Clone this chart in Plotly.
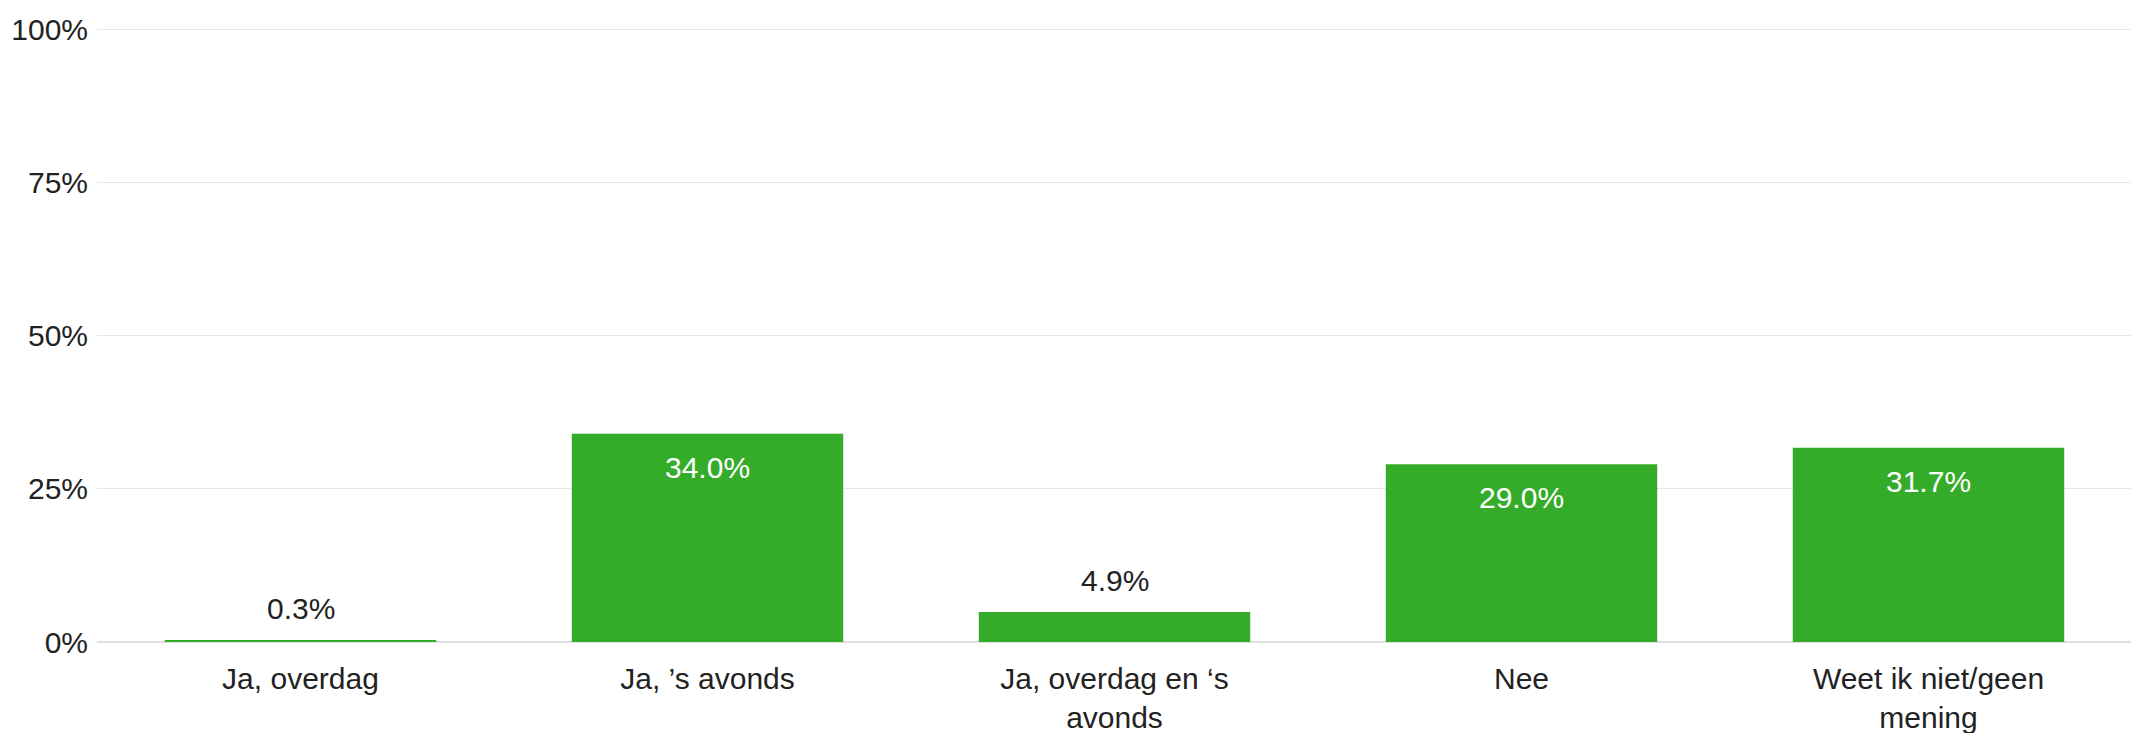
import plotly.graph_objects as go

# antwoordcategorieën en percentages
categories = ['Ja, overdag', 'Ja, ’s avonds', 'Ja, overdag en ‘s<br>avonds', 'Nee', 'Weet ik niet/geen<br>mening']
percentages = [0.3, 34.0, 4.9, 29.0, 31.7]
y_ticks = [0, 25, 50, 75, 100]
y_tick_labels = ['0%', '25%', '50%', '75%', '100%']

bar_color = '#34ac29'
font_family = 'Liberation Sans, Arial, sans-serif'
fs = 30

fig = go.Figure(go.Bar(
    x=categories,
    y=percentages,
    marker=dict(color=bar_color, line=dict(width=0)),
    hoverinfo='skip',
))

# labels: binnen de balk als ze passen, anders erboven
for cat, val in zip(categories, percentages):
    inside = val > 10
    fig.add_annotation(
        x=cat, y=val,
        text=f'{val:.1f}%',
        showarrow=False,
        yanchor='top' if inside else 'bottom',
        yshift=-15 if inside else 13,
        font=dict(size=fs, color='white' if inside else '#222222', family=font_family),
    )

# de pagina heeft 8px body-marge, daarom marges iets verschoven
fig.update_layout(
    width=2139, height=733,
    margin=dict(l=89, r=15, t=20, b=99, autoexpand=False),
    paper_bgcolor='white', plot_bgcolor='white',
    bargap=0.333,
    showlegend=False,
    font=dict(family=font_family, size=fs, color='#222222'),
    xaxis=dict(showgrid=False, showline=False, ticks='', ticklabelstandoff=16,
               automargin=False, tickfont=dict(size=fs, color='#222222')),
    yaxis=dict(range=[0, 100.2], tickvals=y_ticks, ticktext=y_tick_labels,
               showgrid=True, gridcolor='#e8e8e8', gridwidth=1,
               zeroline=True, zerolinecolor='#e0e0e0', zerolinewidth=2,
               ticks='', ticklabelstandoff=8, automargin=False,
               tickfont=dict(size=fs, color='#222222')),
)

fig.write_html('out.html')
